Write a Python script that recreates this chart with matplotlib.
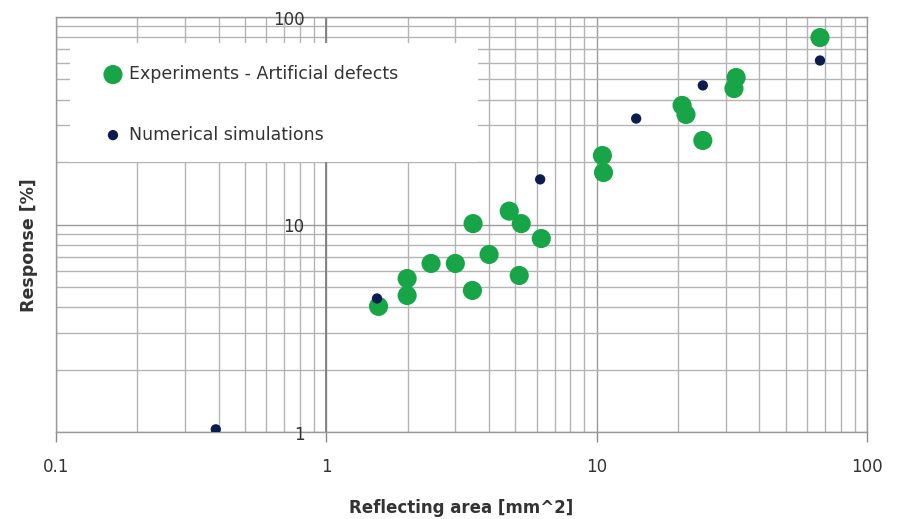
import matplotlib.pyplot as plt
from matplotlib.patches import Rectangle
from matplotlib.ticker import LogLocator, NullFormatter

plt.rcParams['font.family'] = ['DejaVu Sans']

# Experiments - artificial defects
exp_area = [1.56, 1.99, 1.99, 2.44, 3.0, 3.47, 3.49, 4.0, 4.75, 5.26, 5.17, 6.24,
            10.5, 10.6, 20.7, 21.4, 24.7, 32.8, 32.2, 67.0]
exp_resp = [4.03, 5.49, 4.55, 6.49, 6.49, 4.81, 10.1, 7.17, 11.6, 10.1, 5.68, 8.56,
            21.5, 17.8, 37.5, 33.9, 25.4, 51.1, 45.2, 79.6]

# Numerical simulations
sim_area = [0.39, 1.54, 6.18, 14.0, 24.7, 67.0]
sim_resp = [1.03, 4.40, 16.5, 32.4, 46.8, 61.7]

x_ticks = [0.1, 1, 10, 100]
x_tick_labels = ['0.1', '1', '10', '100']
y_ticks = [1, 10, 100]
y_tick_labels = ['1', '10', '100']

green = '#17a548'
navy = '#0b1d4d'
txt = '#333333'

fig = plt.figure(figsize=(8.98, 5.19), dpi=100)
ax = fig.add_axes([56 / 898, (519 - 432) / 519, 811 / 898, 415 / 519])
ax.set_xscale('log')
ax.set_yscale('log')
ax.set_xlim(0.1, 100)
ax.set_ylim(1, 100)

ax.xaxis.set_minor_locator(LogLocator(base=10, subs=range(2, 10)))
ax.yaxis.set_minor_locator(LogLocator(base=10, subs=range(2, 10)))
ax.xaxis.set_minor_formatter(NullFormatter())
ax.yaxis.set_minor_formatter(NullFormatter())
ax.grid(True, which='major', color='#9a9a9a', linewidth=1.0)
ax.grid(True, which='minor', color='#b4b4b4', linewidth=1.0)
ax.set_axisbelow(True)

for side in ['left', 'right', 'top', 'bottom']:
    ax.spines[side].set_color('#9a9a9a')
    ax.spines[side].set_linewidth(1.0)

# vertical axis crosses at x = 1
ax.axvline(1, color='#7a7a7a', linewidth=1.2, zorder=1.5)

ax.set_xticks(x_ticks)
ax.set_xticklabels(x_tick_labels)
ax.tick_params(axis='x', which='major', direction='out', length=7, width=1,
               color='#8a8a8a', pad=12, labelsize=12, labelcolor=txt)
ax.tick_params(axis='x', which='minor', length=0)
ax.set_yticks(y_ticks)
ax.set_yticklabels([])
ax.tick_params(axis='y', which='both', length=0)
for val, lab in zip(y_ticks, y_tick_labels):
    ax.text(0.83, val * 0.97, lab, ha='right', va='center', fontsize=12,
            color=txt, zorder=3)

ax.scatter(exp_area, exp_resp, s=190, color=green, edgecolors='none', zorder=3,
           label='Experiments - Artificial defects')
ax.scatter(sim_area, sim_resp, s=55, color=navy, edgecolors='none', zorder=4,
           label='Numerical simulations')

# white legend panel over the grid
ax.add_patch(Rectangle((0.0173, 0.651), 0.503, 0.286, transform=ax.transAxes,
                       facecolor='white', edgecolor='none', zorder=2.5))
leg = ax.legend(loc='upper left', bbox_to_anchor=(0.0574, 0.884), fontsize=12.5,
                frameon=False, labelspacing=2.45, handletextpad=0.32,
                borderpad=0, borderaxespad=0, handlelength=1.2,
                scatterpoints=1)
for t in leg.get_texts():
    t.set_color(txt)
leg.set_zorder(5)

ax.set_xlabel('Reflecting area [mm^2]', fontsize=12, fontweight='bold', color=txt)
ax.xaxis.set_label_coords(0.5, -0.161)
ax.set_ylabel('Response [%]', fontsize=12.5, fontweight='bold', color=txt)
ax.yaxis.set_label_coords(-0.0227, 0.45)

fig.savefig('out.png', dpi=100)
